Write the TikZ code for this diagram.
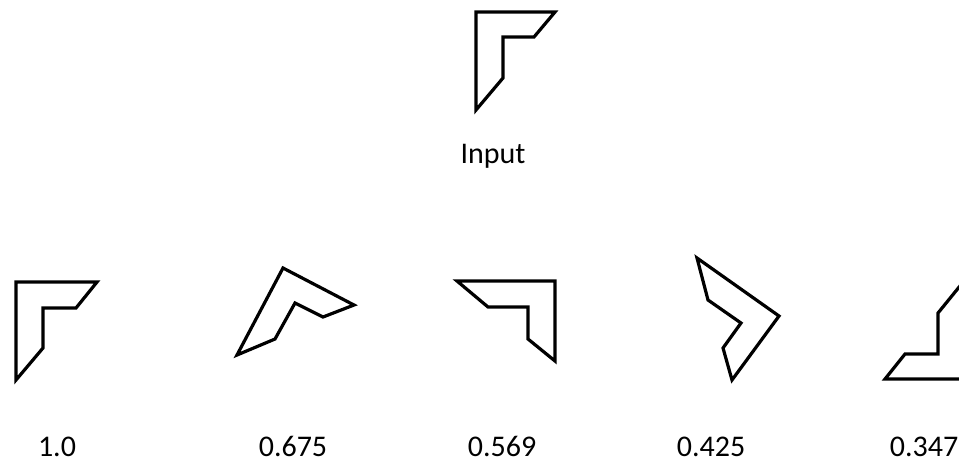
\documentclass[tikz,border=0pt]{standalone}
\usepackage{fontspec}
\setmainfont{Carlito}
\begin{document}
\begin{tikzpicture}[x=0.75pt,y=-0.75pt,
  outline/.style={draw=black,line width=2.4pt,line join=miter},
  score/.style={anchor=base,font=\fontsize{22.5}{27}\selectfont,inner sep=0pt}]
\useasboundingbox (0,0) rectangle (959,462);
\clip (0,0) rectangle (959,462);
% input shape
\draw[outline] (476,12) -- (555,12) -- (534,37) -- (503,37) -- (503,78) -- (476,110) -- cycle;
\node[score] (input) at (493,163) {Input};
% candidates
\draw[outline] (16,282) -- (97,282) -- (76,308) -- (43,308) -- (43,348) -- (16,380) -- cycle;
\draw[outline] (283,268) -- (354,305) -- (323,317) -- (295,303) -- (275,339) -- (237,355) -- cycle;
\draw[outline] (457,281) -- (555,281) -- (555,361) -- (528,339) -- (528,307) -- (488,307) -- cycle;
\draw[outline] (697,258) -- (779,316) -- (732,380) -- (723,348) -- (741,323) -- (708,300) -- cycle;
\draw[outline] (964,379) -- (885,379) -- (905,354) -- (938,354) -- (938,313) -- (964,281) -- cycle;
% similarity scores
\node[score] (s1) at (57,456) {1.0};
\node[score] (s2) at (293,456) {0.675};
\node[score] (s3) at (502,456) {0.569};
\node[score] (s4) at (711,456) {0.425};
\node[score] (s5) at (924,456) {0.347};
\end{tikzpicture}
\end{document}
